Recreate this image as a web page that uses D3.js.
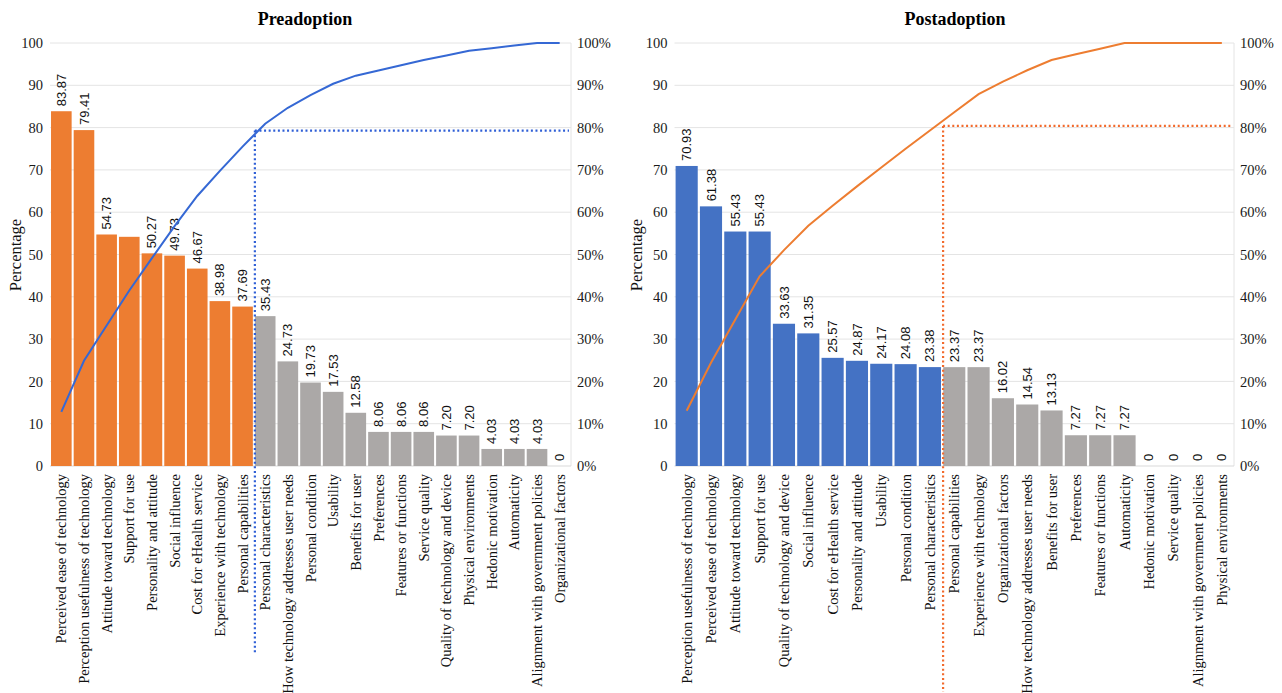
<!DOCTYPE html>
<html>
<head>
<meta charset="utf-8">
<script src="https://cdn.jsdelivr.net/npm/d3@7"></script>
<style>
  html, body { margin: 0; padding: 0; background: #ffffff; }
  svg { display: block; }
</style>
</head>
<body>
<svg id="chart" width="1282" height="693"></svg>
<script>
// Preadoption factors, sorted by share of studies
const preCategories = [
  "Perceived ease of technology", "Perception usefulness of technology", "Attitude toward technology",
  "Support for use", "Personality and attitude", "Social influence", "Cost for eHealth service",
  "Experience with technology", "Personal capabilities", "Personal characteristics",
  "How technology addresses user needs", "Personal condition", "Usability", "Benefits for user",
  "Preferences", "Features or functions", "Service quality", "Quality of technology and device",
  "Physical environments", "Hedonic motivation", "Automaticity",
  "Alignment with government policies", "Organizational factors"
];
const preValues = [83.87, 79.41, 54.73, 54.18, 50.27, 49.73, 46.67, 38.98, 37.69, 35.43,
  24.73, 19.73, 17.53, 12.58, 8.06, 8.06, 8.06, 7.20, 7.20, 4.03, 4.03, 4.03, 0];
const preLabels = ["83.87", "79.41", "54.73", "", "50.27", "49.73", "46.67", "38.98", "37.69", "35.43",
  "24.73", "19.73", "17.53", "12.58", "8.06", "8.06", "8.06", "7.20", "7.20", "4.03", "4.03", "4.03", "0"];
const preVitalFew = 9;        // bars left of the cut-off
const preCutoffLevel = 0.793; // cumulative level of the dotted guide

// Postadoption factors
const postCategories = [
  "Perception usefulness of technology", "Perceived ease of technology", "Attitude toward technology",
  "Support for use", "Quality of technology and device", "Social influence", "Cost for eHealth service",
  "Personality and attitude", "Usability", "Personal condition", "Personal characteristics",
  "Personal capabilities", "Experience with technology", "Organizational factors",
  "How technology addresses user needs", "Benefits for user", "Preferences", "Features or functions",
  "Automaticity", "Hedonic motivation", "Service quality", "Alignment with government policies",
  "Physical environments"
];
const postValues = [70.93, 61.38, 55.43, 55.43, 33.63, 31.35, 25.57, 24.87, 24.17, 24.08, 23.38,
  23.37, 23.37, 16.02, 14.54, 13.13, 7.27, 7.27, 7.27, 0, 0, 0, 0];
const postLabels = ["70.93", "61.38", "55.43", "55.43", "33.63", "31.35", "25.57", "24.87", "24.17",
  "24.08", "23.38", "23.37", "23.37", "16.02", "14.54", "13.13", "7.27", "7.27", "7.27", "0", "0", "0", "0"];
const postVitalFew = 11;
const postCutoffLevel = 0.804;

const leftTicks = [0, 10, 20, 30, 40, 50, 60, 70, 80, 90, 100];
const rightTicks = [0, 0.1, 0.2, 0.3, 0.4, 0.5, 0.6, 0.7, 0.8, 0.9, 1];

const SERIF = "'Liberation Serif', 'Times New Roman', serif";
const SANS = "'Liberation Sans', Arial, sans-serif";

const svg = d3.select("#chart");

function drawPareto(opt) {
  const n = opt.categories.length;
  const x = d3.scaleBand().domain(d3.range(n)).range([opt.x0, opt.x1])
    .paddingInner(0.09).paddingOuter(0.045);
  const y = d3.scaleLinear().domain([0, 100]).range([466, 43]);
  const yPct = d3.scaleLinear().domain([0, 1]).range([466, 43]);
  const g = svg.append("g");

  // title
  g.append("text")
    .attr("x", opt.titleX).attr("y", 25)
    .attr("text-anchor", "middle")
    .attr("font-family", SERIF).attr("font-weight", "bold").attr("font-size", 18)
    .attr("fill", "#000").text(opt.title);

  // gridlines
  g.append("g").selectAll("line").data(leftTicks.filter(d => d > 0)).join("line")
    .attr("x1", opt.x0).attr("x2", opt.x1)
    .attr("y1", d => y(d)).attr("y2", d => y(d))
    .attr("stroke", "#e4e4e4").attr("stroke-width", 1);

  // right edge and baseline
  g.append("line").attr("x1", opt.x1).attr("x2", opt.x1).attr("y1", y(100)).attr("y2", y(0))
    .attr("stroke", "#e4e4e4");
  g.append("line").attr("x1", opt.x0).attr("x2", opt.x1).attr("y1", y(0)).attr("y2", y(0))
    .attr("stroke", "#d9d9d9");

  // left axis
  const leftAxis = g.append("g").attr("transform", `translate(${opt.x0},0)`)
    .call(d3.axisLeft(y).tickValues(leftTicks).tickSize(0).tickPadding(7));
  leftAxis.select(".domain").remove();
  leftAxis.selectAll("text").attr("font-family", SERIF).attr("font-size", 14.5).attr("fill", "#1a1a1a");

  // right axis
  const rightAxis = g.append("g").attr("transform", `translate(${opt.x1},0)`)
    .call(d3.axisRight(yPct).tickValues(rightTicks).tickSize(0).tickPadding(6).tickFormat(d3.format(".0%")));
  rightAxis.select(".domain").remove();
  rightAxis.selectAll("text").attr("font-family", SERIF).attr("font-size", 14.5).attr("fill", "#1a1a1a");

  // axis title
  g.append("text")
    .attr("transform", `translate(${opt.titleYX},255) rotate(-90)`)
    .attr("text-anchor", "middle").attr("dy", "0.35em")
    .attr("font-family", SERIF).attr("font-size", 16.5).attr("fill", "#111")
    .text("Percentage");

  // bars
  g.append("g").selectAll("rect").data(opt.values).join("rect")
    .attr("x", (d, i) => x(i)).attr("width", x.bandwidth())
    .attr("y", d => y(d)).attr("height", d => y(0) - y(d))
    .attr("fill", (d, i) => i < opt.vitalFew ? opt.mainColor : "#aba8a7");

  // value labels
  g.append("g").selectAll("text").data(opt.values).join("text")
    .attr("transform", (d, i) => `translate(${x(i) + x.bandwidth() / 2},${y(d) - 5}) rotate(-90)`)
    .attr("dy", "0.35em")
    .attr("font-family", SANS).attr("font-size", 13).attr("fill", "#111")
    .text((d, i) => opt.labels[i]);

  // category labels
  g.append("g").selectAll("text").data(opt.categories).join("text")
    .attr("transform", (d, i) => `translate(${x(i) + x.bandwidth() / 2},${y(0) + 8}) rotate(-90)`)
    .attr("text-anchor", "end").attr("dy", "0.35em")
    .attr("font-family", SERIF).attr("font-size", 14.5).attr("fill", "#111")
    .text(d => d);

  // cumulative share line
  const total = d3.sum(opt.values);
  const cum = Array.from(d3.cumsum(opt.values), v => v / total);
  g.append("path").datum(cum)
    .attr("fill", "none").attr("stroke", opt.lineColor).attr("stroke-width", 2)
    .attr("d", d3.line().x((d, i) => x(i) + x.bandwidth() / 2).y(d => yPct(d)));

  // cut-off guides
  const cutX = x(opt.vitalFew) - x.step() * 0.045 + 1;
  g.append("line")
    .attr("x1", cutX).attr("x2", opt.x1 - 2)
    .attr("y1", yPct(opt.cutoffLevel)).attr("y2", yPct(opt.cutoffLevel))
    .attr("stroke", opt.guideColor).attr("stroke-width", 2.2).attr("stroke-dasharray", "2 2.6");
  g.append("line")
    .attr("x1", cutX).attr("x2", cutX)
    .attr("y1", yPct(opt.cutoffLevel)).attr("y2", opt.guideBottom)
    .attr("stroke", opt.guideColor).attr("stroke-width", 2.2).attr("stroke-dasharray", "2 2.6");
}

drawPareto({
  title: "Preadoption", titleX: 305, titleYX: 15,
  x0: 50, x1: 571,
  categories: preCategories, values: preValues, labels: preLabels,
  vitalFew: preVitalFew, cutoffLevel: preCutoffLevel,
  mainColor: "#ed7d31", lineColor: "#3568d4", guideColor: "#2f5fd6", guideBottom: 653
});

drawPareto({
  title: "Postadoption", titleX: 955, titleYX: 636,
  x0: 674.5, x1: 1234,
  categories: postCategories, values: postValues, labels: postLabels,
  vitalFew: postVitalFew, cutoffLevel: postCutoffLevel,
  mainColor: "#4472c4", lineColor: "#ed7d31", guideColor: "#f26a2c", guideBottom: 692
});
</script>
</body>
</html>
